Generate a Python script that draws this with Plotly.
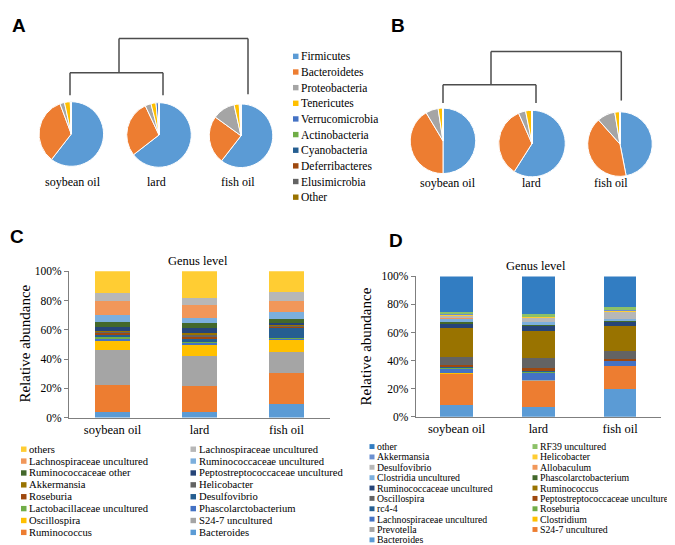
import plotly.graph_objects as go

W, H = 675, 545


def px(x):
    return x / W


def py(y):
    return 1 - y / H


SERIF = "Liberation Serif, Times New Roman, DejaVu Serif, serif"
SANS = "Liberation Sans, Arial, DejaVu Sans, sans-serif"

# ---------------- Phylum level (panels A and B) ----------------
phyla = ["Firmicutes", "Bacteroidetes", "Proteobacteria", "Tenericutes",
         "Verrucomicrobia", "Actinobacteria", "Cyanobacteria",
         "Deferribacteres", "Elusimicrobia", "Other"]
phyla_colors = ["#5B9BD5", "#ED7D31", "#A5A5A5", "#FFC000", "#4472C4",
                "#70AD47", "#255E91", "#9E480E", "#636363", "#997300"]
groups = ["soybean oil", "lard", "fish oil"]

pieA_soybean = [60.5, 33.8, 2.3, 2.9, 0.2, 0.1, 0.05, 0.05, 0.05, 0.05]
pieA_lard = [64.5, 28.5, 3.0, 2.5, 1.2, 0.1, 0.1, 0.05, 0.03, 0.02]
pieA_fish = [60.5, 24.5, 11.5, 2.6, 0.4, 0.2, 0.1, 0.1, 0.05, 0.05]
pieB_soybean = [50.0, 41.4, 6.2, 2.2, 0.1, 0.05, 0.02, 0.01, 0.01, 0.01]
pieB_lard = [59.0, 34.4, 3.5, 3.0, 0.05, 0.03, 0.01, 0.01, 0.0, 0.0]
pieB_fish = [47.0, 41.5, 9.0, 2.5, 0.05, 0.03, 0.01, 0.01, 0.0, 0.0]

# ---------------- Genus level, panel C (bottom -> top) ----------------
genus_c = ["Bacteroides", "Ruminococcus", "S24-7 uncultured", "Oscillospira",
           "Phascolarctobacterium", "Lactobacillaceae uncultured",
           "Desulfovibrio", "Roseburia", "Helicobacter", "Akkermansia",
           "Peptostreptococcaceae uncultured", "Ruminococcaceae other",
           "Ruminococcaceae uncultured", "Lachnospiraceae uncultured",
           "Lachnospiraceae uncultured", "others"]
colors_c = ["#5B9BD5", "#ED7D31", "#A5A5A5", "#FFC000", "#4472C4", "#70AD47",
            "#255E91", "#9E480E", "#636363", "#997300", "#264478", "#43682B",
            "#7CAFDD", "#F1975A", "#B7B7B7", "#FFCD33"]
c_soybean = [4.0, 18.0, 24.0, 6.7, 1.2, 1.0, 1.5, 1.3, 0.8, 0.7, 3.0, 3.0,
             5.2, 9.5, 4.9, 15.2]
c_lard = [3.6, 18.3, 20.1, 7.5, 1.4, 0.8, 2.2, 1.6, 1.0, 1.0, 3.5, 3.5,
          3.5, 9.0, 4.5, 18.5]
c_fish = [9.2, 21.6, 13.8, 8.1, 1.5, 0.5, 6.5, 1.0, 0.8, 0.5, 1.0, 2.7,
          5.0, 7.3, 6.0, 14.5]

# ---------------- Genus level, panel D (bottom -> top) ----------------
genus_d = ["Bacteroides", "S24-7 uncultured", "Prevotella", "Clostridium",
           "Lachnospiraceae uncultured", "Roseburia", "rc4-4",
           "Peptostreptococcaceae uncultured", "Oscillospira", "Ruminococcus",
           "Ruminococcaceae uncultured", "Phascolarctobacterium",
           "Clostridia uncultured", "Allobaculum", "Desulfovibrio",
           "Helicobacter", "Akkermansia", "RF39 uncultured", "other"]
colors_d = ["#5B9BD5", "#ED7D31", "#A5A5A5", "#FFC000", "#4472C4", "#70AD47",
            "#255E91", "#9E480E", "#636363", "#997300", "#264478", "#43682B",
            "#7CAFDD", "#F1975A", "#B7B7B7", "#FFCD33", "#698ED0", "#8CC168",
            "#327DC2"]
d_soybean = [8.6, 21.9, 0.3, 0.2, 3.2, 0.6, 0.5, 1.7, 5.8, 20.2, 3.0, 1.2,
             2.4, 0.4, 1.9, 0.9, 0.5, 1.6, 25.1]
d_lard = [6.8, 19.0, 0.3, 0.2, 4.8, 0.9, 0.5, 2.5, 6.5, 19.3, 3.6, 1.2,
          1.8, 0.4, 2.6, 0.6, 0.4, 1.6, 27.0]
d_fish = [19.4, 16.6, 0.2, 0.2, 3.0, 0.3, 0.4, 0.8, 6.0, 17.6, 2.8, 1.0,
          1.2, 0.3, 4.8, 0.8, 0.8, 2.0, 21.8]

pct_ticks = [0, 20, 40, 60, 80, 100]

fig = go.Figure()

# ---------------- pies ----------------
pie_sets = [
    (pieA_soybean, (63.3, 122.7, 33)), (pieA_lard, (151, 123.7, 33)),
    (pieA_fish, (233, 124.5, 32.5)),
    (pieB_soybean, (435, 129.7, 33.5)), (pieB_lard, (524, 132.5, 34)),
    (pieB_fish, (612, 133, 33)),
]
for vals, (cx, cy, r) in pie_sets:
    fig.add_trace(go.Pie(
        labels=phyla, values=vals, sort=False, textinfo="none",
        direction="clockwise", rotation=0,
        marker=dict(colors=phyla_colors, line=dict(color="white", width=1)),
        domain=dict(x=[px(cx - r), px(cx + r)], y=[py(cy + r), py(cy - r)]),
        showlegend=False, hoverinfo="label+percent",
    ))

# ---------------- bars ----------------
for i, name in enumerate(genus_c):
    fig.add_trace(go.Bar(
        x=groups, y=[c_soybean[i], c_lard[i], c_fish[i]], name=name,
        marker=dict(color=colors_c[i], line=dict(width=0)),
        xaxis="x", yaxis="y", showlegend=False,
    ))
for i, name in enumerate(genus_d):
    fig.add_trace(go.Bar(
        x=groups, y=[d_soybean[i], d_lard[i], d_fish[i]], name=name,
        marker=dict(color=colors_d[i], line=dict(width=0)),
        xaxis="x2", yaxis="y2", showlegend=False,
    ))

axis_font = dict(family=SERIF, size=11.5, color="#000")
cat_font = dict(family=SERIF, size=12.5, color="#000")


def yax(domain, anchor):
    return dict(domain=domain, anchor=anchor, range=[0, 100],
                tickvals=pct_ticks,
                ticktext=[f"{v}%" for v in pct_ticks], showgrid=False,
                zeroline=False, showline=True, linecolor="#7f7f7f",
                linewidth=1, ticks="outside", ticklen=4,
                tickcolor="#7f7f7f", tickfont=axis_font, fixedrange=True)


def xax(domain, anchor):
    return dict(domain=domain, anchor=anchor, showgrid=False, zeroline=False,
                showline=True, linecolor="#7f7f7f", linewidth=1,
                tickfont=cat_font, ticks="", fixedrange=True)


annotations = []
shapes = []


def text_at(txt, x, y, size, family=SERIF, angle=0, xanchor="center"):
    annotations.append(dict(text=txt, x=px(x), y=py(y), xref="paper",
                            yref="paper", showarrow=False, xanchor=xanchor,
                            yanchor="middle", textangle=angle, borderpad=0,
                            font=dict(family=family, size=size, color="#000")))


# panel letters
for letter, x, y in [("A", 10.5, 12), ("B", 390, 12), ("C", 8.5, 228),
                     ("D", 387.5, 232)]:
    text_at(f"<b>{letter}</b>", x, y, 19, family=SANS)

# pie labels
for txt, x, y in [("soybean oil", 65, 172), ("lard", 148, 172),
                  ("fish oil", 230, 172), ("soybean oil", 440, 173),
                  ("lard", 523, 173), ("fish oil", 603, 173)]:
    text_at(txt, x, y, 12)

# dendrograms (segments in pixel space)
dendro_segments = [
    # panel A
    (62, 83, 62, 60), (62, 60, 155, 60), (155, 60, 155, 83),
    (111, 60, 111, 25), (111, 25, 240, 25), (240, 25, 240, 82),
    # panel B
    (435, 91, 435, 72.3), (435, 72.3, 528, 72.3), (528, 72.3, 528, 91),
    (483, 72.3, 483, 38.3), (483, 38.3, 613.3, 38.3), (613.3, 38.3, 613.3, 88.5),
]
for x0, y0, x1, y1 in dendro_segments:
    shapes.append(dict(type="line", xref="paper", yref="paper",
                       x0=px(x0), y0=py(y0), x1=px(x1), y1=py(y1),
                       line=dict(color="#4d4d4d", width=1.5)))


def legend_entry(label, color, sx, ty, size, fs):
    shapes.append(dict(type="rect", xref="paper", yref="paper",
                       x0=px(sx), x1=px(sx + size),
                       y0=py(ty + size / 2), y1=py(ty - size / 2),
                       fillcolor=color, line=dict(width=0)))
    text_at(label, sx + size + 1.5, ty, fs, xanchor="left")


# phylum legend
for i, (lab, col) in enumerate(zip(phyla, phyla_colors)):
    legend_entry(lab, col, 285, 43.3 + i * 16.0, 5.5, 11.5)

# panel C legend (reverse stack order, two columns row-wise)
rev_c = list(zip(genus_c, colors_c))[::-1]
for i, (lab, col) in enumerate(rev_c):
    colx = 13 if i % 2 == 0 else 182.5
    legend_entry(lab, col, colx, 445 + (i // 2) * 12.15, 5.5, 10.6)

# panel D legend
rev_d = list(zip(genus_d, colors_d))[::-1]
for i, (lab, col) in enumerate(rev_d):
    colx = 361.5 if i % 2 == 0 else 524.5
    legend_entry(lab, col, colx, 442.3 + (i // 2) * 10.6, 5, 9.8)

# titles and axis titles
text_at("Genus level", 190, 253, 12.5)
text_at("Genus level", 528, 258, 12.5)
text_at("Relative abundance", 17, 337, 15, angle=-90)
text_at("Relative abundance", 358, 340, 15, angle=-90)

fig.update_layout(
    width=W, height=H, margin=dict(l=0, r=0, t=0, b=0),
    paper_bgcolor="white", plot_bgcolor="white",
    barmode="stack", bargap=0.6,
    xaxis=xax([px(61), px(322)], "y"),
    yaxis=yax([py(412.7), py(263)], "x"),
    xaxis2=xax([px(407.7), px(653)], "y2"),
    yaxis2=yax([py(411.7), py(268.3)], "x2"),
    annotations=annotations, shapes=shapes, showlegend=False,
)

fig.write_html("out.html")
